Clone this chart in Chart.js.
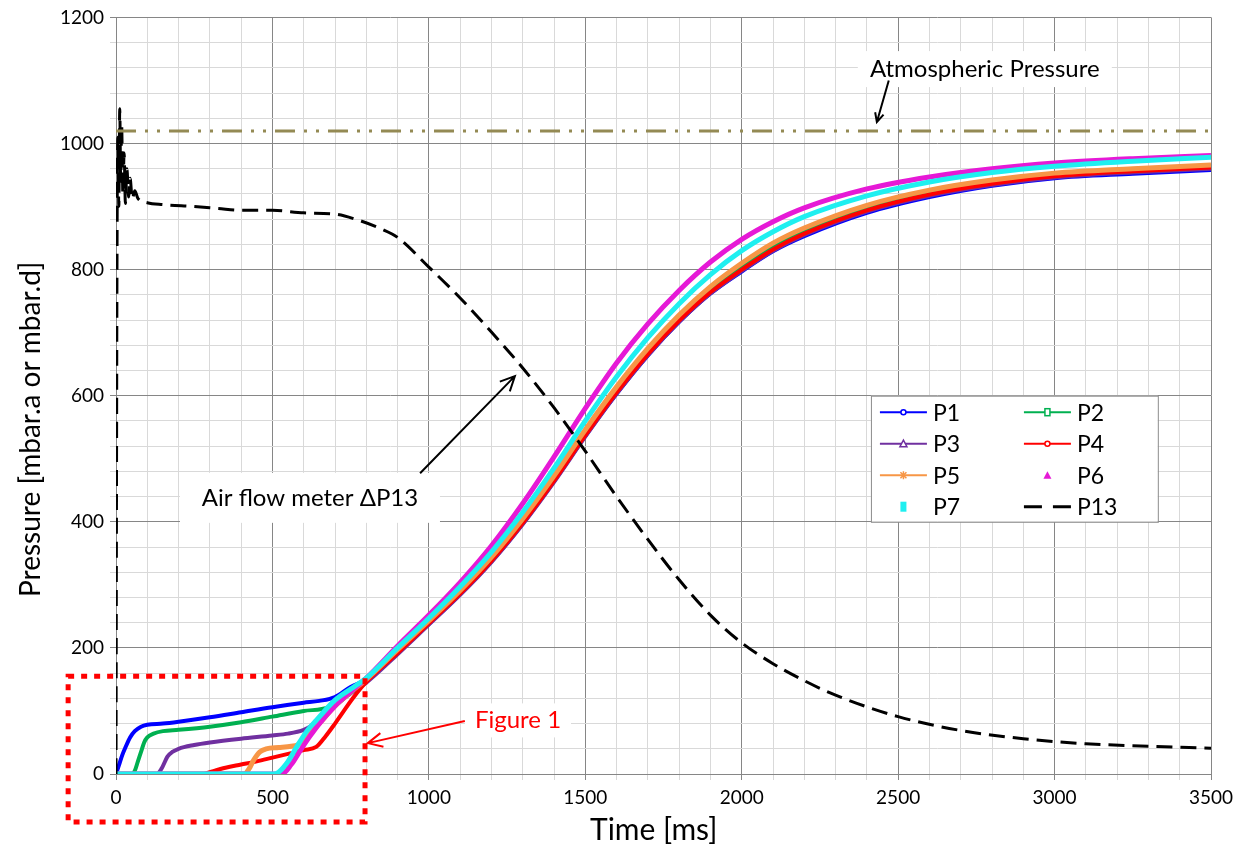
<!DOCTYPE html>
<html>
<head>
<meta charset="utf-8">
<script src="https://cdn.jsdelivr.net/npm/chart.js@4"></script>
<style>
  html, body { margin: 0; padding: 0; background: #fff; }
  #wrap { width: 1244px; height: 846px; }
</style>
</head>
<body>
<div id="wrap"><canvas id="grafico" width="1244" height="846"></canvas></div>
<script>
// tempos comuns (ms) da parte em que as curvas se juntam
const tailT = [800, 900, 1000, 1100, 1200, 1300, 1400, 1500, 1600, 1700, 1800, 1900, 2000, 2100, 2200, 2400, 2600, 2800, 3000, 3250, 3500];

// P1..P7: inicio proprio + cauda
const p1T = [0, 10, 20, 30, 45, 60, 80, 100, 150, 200, 300, 400, 500, 600, 650, 700, 750];
const p1V = [0, 15, 30, 42, 58, 68, 75, 78, 80, 83, 90, 98, 106, 113, 116, 122, 138];
const p1Tail = [150, 192, 238, 285, 337, 397, 464, 536, 603, 664, 717, 762, 797, 829, 853, 890, 915, 933, 945, 952, 958];

const p2T = [0, 50, 60, 70, 80, 90, 100, 120, 150, 200, 300, 400, 500, 600, 680, 720, 760];
const p2V = [0, 0, 5, 20, 35, 50, 58, 64, 68, 70, 75, 82, 91, 100, 106, 120, 138];
const p2Tail = [150, 196, 242, 290, 343, 403, 470, 543, 611, 672, 725, 770, 806, 838, 862, 899, 923, 940, 951, 958, 964];

const p3T = [0, 130, 145, 165, 180, 200, 250, 300, 400, 500, 550, 600, 620, 650, 700, 750];
const p3V = [0, 0, 8, 28, 35, 40, 46, 50, 56, 61, 64, 70, 75, 88, 108, 128];
const p3Tail = [145, 190, 237, 284, 336, 396, 463, 535, 603, 664, 717, 762, 798, 830, 855, 892, 917, 934, 946, 954, 960];

const p4T = [0, 280, 300, 350, 400, 450, 500, 550, 600, 640, 670, 700, 760];
const p4V = [0, 0, 3, 10, 15, 20, 26, 32, 38, 43, 60, 80, 122];
const p4Tail = [146, 192, 239, 286, 338, 398, 465, 537, 605, 666, 719, 764, 800, 832, 857, 894, 919, 936, 948, 956, 962];

const p5T = [0, 410, 425, 440, 460, 480, 520, 560, 580, 600, 650, 700, 750];
const p5V = [0, 0, 8, 22, 35, 40, 42, 44, 46, 55, 80, 108, 130];
const p5Tail = [150, 197, 243, 291, 344, 405, 473, 546, 614, 675, 728, 773, 810, 842, 866, 902, 926, 942, 953, 960, 966];

const p6T = [0, 530, 560, 590, 620, 650, 700, 760];
const p6V = [0, 0, 15, 38, 60, 80, 108, 135];
const p6Tail = [152, 203, 252, 304, 362, 429, 503, 580, 652, 714, 767, 812, 848, 876, 898, 928, 947, 960, 969, 976, 981];

const p7T = [0, 505, 520, 550, 580, 610, 640, 700, 760];
const p7V = [0, 0, 3, 20, 45, 68, 85, 117, 138];
const p7Tail = [152, 200, 247, 297, 352, 415, 485, 560, 630, 692, 746, 792, 830, 860, 884, 917, 939, 954, 964, 972, 978];

// medidor de vazao dP13
const p13T = [0, 3, 6, 9, 12, 15, 18, 22, 26, 30, 35, 40, 45, 52, 60, 70, 100, 150, 250, 325, 400, 500, 600, 700, 765, 850, 900, 1000, 1100, 1200, 1300, 1400, 1500, 1600, 1700, 1800, 1900, 2000, 2100, 2200, 2300, 2500, 2700, 2900, 3100, 3300, 3500];
const p13V = [0, 780, 1010, 900, 1055, 940, 1030, 920, 985, 905, 960, 915, 945, 912, 925, 913, 906, 903, 900, 897, 894, 894, 890, 888, 880, 864, 851, 804, 755, 701, 644, 581, 512, 440, 372, 308, 252, 208, 175, 148, 125, 91, 69, 56, 48, 44, 41];

const atmT = [0, 3500];
const atmV = [1020, 1020];

const xTicks = [0, 500, 1000, 1500, 2000, 2500, 3000, 3500];
const yTicks = [0, 200, 400, 600, 800, 1000, 1200];

const fonte = 'Lato, "Open Sans", sans-serif';

function pares(ts, vs) { return ts.map((t, i) => ({ x: t, y: vs[i] })); }
function serie(t, v, cauda) { return pares(t.concat(tailT), v.concat(cauda)); }

function linha(label, data, cor, marcador, ordem, largura) {
    return {
        label: label, data: data, borderColor: cor, backgroundColor: cor,
        borderWidth: largura, pointRadius: 0, cubicInterpolationMode: 'monotone',
        order: ordem, marcador: marcador
    };
}

const datasets = [
    linha('P1', serie(p1T, p1V, p1Tail), '#0000FF', 'circulo', 9, 4),
    linha('P2', serie(p2T, p2V, p2Tail), '#00B050', 'quadrado', 8, 4),
    linha('P3', serie(p3T, p3V, p3Tail), '#7030A0', 'triangulo', 7, 4),
    linha('P4', serie(p4T, p4V, p4Tail), '#FF0000', 'circulo', 6, 4),
    linha('P5', serie(p5T, p5V, p5Tail), '#F79646', 'xis', 5, 5),
    linha('P6', serie(p6T, p6V, p6Tail), '#E619D6', 'trianguloCheio', 4, 5),
    linha('P7', serie(p7T, p7V, p7Tail), '#1FEFF0', 'quadradoCheio', 3, 5),
    Object.assign(linha('P13', pares(p13T, p13V), '#000000', 'tracejado', 2, 3), { borderDash: [16, 8] }),
    Object.assign(linha('Atm', pares(atmT, atmV), '#948A54', null, 1, 3), { borderDash: [20, 9, 3, 9, 3, 9] })
];

function seta(ctx, x1, y1, x2, y2, cor, tam) {
    const ang = Math.atan2(y2 - y1, x2 - x1);
    ctx.strokeStyle = cor;
    ctx.lineWidth = 2;
    ctx.beginPath();
    ctx.moveTo(x1, y1);
    ctx.lineTo(x2, y2);
    ctx.moveTo(x2 - tam * Math.cos(ang - 0.45), y2 - tam * Math.sin(ang - 0.45));
    ctx.lineTo(x2, y2);
    ctx.lineTo(x2 - tam * Math.cos(ang + 0.45), y2 - tam * Math.sin(ang + 0.45));
    ctx.stroke();
}

function caixaTexto(ctx, texto, cx, cy, w, h, cor, tamFonte) {
    ctx.fillStyle = '#fff';
    ctx.fillRect(cx - w / 2, cy - h / 2, w, h);
    ctx.fillStyle = cor;
    ctx.font = tamFonte + 'px ' + fonte;
    ctx.textAlign = 'center';
    ctx.textBaseline = 'middle';
    ctx.fillText(texto, cx, cy);
}

function marcador(ctx, tipo, x, y, cor) {
    ctx.strokeStyle = cor;
    ctx.fillStyle = cor;
    ctx.lineWidth = 1.5;
    ctx.beginPath();
    if (tipo === 'circulo') {
        ctx.arc(x, y, 2.5, 0, Math.PI * 2);
        ctx.fillStyle = '#fff';
        ctx.fill();
        ctx.stroke();
    } else if (tipo === 'quadrado') {
        ctx.fillStyle = '#fff';
        ctx.fillRect(x - 2.5, y - 3.5, 5, 7);
        ctx.strokeRect(x - 2.5, y - 3.5, 5, 7);
    } else if (tipo === 'triangulo') {
        ctx.moveTo(x, y - 3.5); ctx.lineTo(x + 3.5, y + 3); ctx.lineTo(x - 3.5, y + 3); ctx.closePath();
        ctx.fillStyle = '#fff';
        ctx.fill();
        ctx.stroke();
    } else if (tipo === 'xis') {
        ctx.moveTo(x - 3, y - 3); ctx.lineTo(x + 3, y + 3);
        ctx.moveTo(x + 3, y - 3); ctx.lineTo(x - 3, y + 3);
        ctx.moveTo(x, y - 4); ctx.lineTo(x, y + 4);
        ctx.stroke();
    } else if (tipo === 'trianguloCheio') {
        ctx.moveTo(x, y - 4); ctx.lineTo(x + 4, y + 3.5); ctx.lineTo(x - 4, y + 3.5); ctx.closePath();
        ctx.fill();
    } else if (tipo === 'quadradoCheio') {
        ctx.fillRect(x - 3, y - 5, 6, 10);
    }
}

const anotacoes = {
    id: 'anotacoes',
    afterDraw(chart) {
        const { ctx } = chart;
        const sx = chart.scales.x, sy = chart.scales.y;
        const px = v => sx.getPixelForValue(v);
        const py = v => sy.getPixelForValue(v);
        ctx.save();

        // titulos dos eixos
        ctx.fillStyle = '#000';
        ctx.textBaseline = 'middle';
        ctx.textAlign = 'left';
        ctx.font = '30px ' + fonte;
        ctx.fillText('Time [ms]', 590, 830);
        ctx.font = '28px ' + fonte;
        ctx.save();
        ctx.translate(31, 597);
        ctx.rotate(-Math.PI / 2);
        ctx.fillText('Pressure [mbar.a or mbar.d]', 0, 0);
        ctx.restore();

        // retangulo vermelho pontilhado (Figure 1)
        ctx.strokeStyle = '#FF0000';
        ctx.lineWidth = 5;
        ctx.setLineDash([6, 7]);
        ctx.strokeRect(px(-153), py(155), px(796) - px(-153), py(-76) - py(155));
        ctx.setLineDash([]);

        caixaTexto(ctx, 'Atmospheric Pressure', px(2777), py(1118), 254, 36, '#000', 24);
        seta(ctx, px(2470), py(1100), px(2432), py(1034), '#000', 10);

        caixaTexto(ctx, 'Air flow meter \u0394P13', px(620), py(438), 260, 50, '#000', 24);
        seta(ctx, px(972), py(477), px(1275), py(631), '#000', 16);

        caixaTexto(ctx, 'Figure 1', px(1285), py(85), 106, 34, '#FF0000', 24);
        seta(ctx, px(1115), py(84), px(805), py(49), '#FF0000', 16);

        // legenda
        const lx = px(2413), rx = px(3330), ty = py(600), by = py(400);
        ctx.fillStyle = '#fff';
        ctx.fillRect(lx, ty, rx - lx, by - ty);
        ctx.strokeStyle = '#8c8c8c';
        ctx.lineWidth = 1;
        ctx.strokeRect(lx + 0.5, ty + 0.5, rx - lx, by - ty);
        ctx.textAlign = 'left';
        ctx.textBaseline = 'middle';
        chart.data.datasets.filter(d => d.marcador).forEach((d, i) => {
            const col = i % 2, lin = Math.floor(i / 2);
            const x0 = lx + 9 + col * 144;
            const yc = ty + 16.5 + lin * 31.5;
            ctx.beginPath();
            if (d.marcador === 'tracejado') {
                ctx.strokeStyle = '#000';
                ctx.lineWidth = 3;
                ctx.moveTo(x0, yc); ctx.lineTo(x0 + 18, yc);
                ctx.moveTo(x0 + 29, yc); ctx.lineTo(x0 + 47, yc);
                ctx.stroke();
            } else if (d.marcador !== 'trianguloCheio' && d.marcador !== 'quadradoCheio') {
                ctx.strokeStyle = d.borderColor;
                ctx.lineWidth = 2;
                ctx.moveTo(x0, yc); ctx.lineTo(x0 + 47, yc);
                ctx.stroke();
            }
            marcador(ctx, d.marcador, x0 + 23.5, yc, d.borderColor);
            ctx.fillStyle = '#000';
            ctx.font = '23px ' + fonte;
            ctx.fillText(d.label, x0 + 53, yc + 1);
        });
        ctx.restore();
    }
};

const corGrade = (passo) => (c) => (c.tick && c.tick.value % passo === 0) ? '#868686' : '#d9d9d9';

new Chart(document.getElementById('grafico').getContext('2d'), {
    type: 'line',
    data: { datasets: datasets },
    options: {
        responsive: false,
        animation: false,
        layout: { padding: { left: 0, right: 33, top: 15, bottom: 0 } },
        plugins: { legend: { display: false }, tooltip: { enabled: false } },
        scales: {
            x: {
                type: 'linear', min: 0, max: 3500,
                afterFit: s => { s.height = 72; },
                ticks: {
                    stepSize: 100, autoSkip: false, maxRotation: 0, padding: 6,
                    color: '#000', font: { family: fonte, size: 19 },
                    callback: v => xTicks.includes(v) ? v : ''
                },
                grid: { color: corGrade(500), tickColor: corGrade(500), tickLength: 6 },
                border: { color: '#868686' }
            },
            y: {
                type: 'linear', min: 0, max: 1200,
                afterFit: s => { s.width = 116; },
                ticks: {
                    stepSize: 40, autoSkip: false, padding: 6,
                    color: '#000', font: { family: fonte, size: 19 },
                    callback: v => yTicks.includes(v) ? v : ''
                },
                grid: { color: corGrade(200), tickColor: corGrade(200), tickLength: 6 },
                border: { color: '#868686' }
            }
        }
    },
    plugins: [anotacoes]
});
</script>
</body>
</html>
